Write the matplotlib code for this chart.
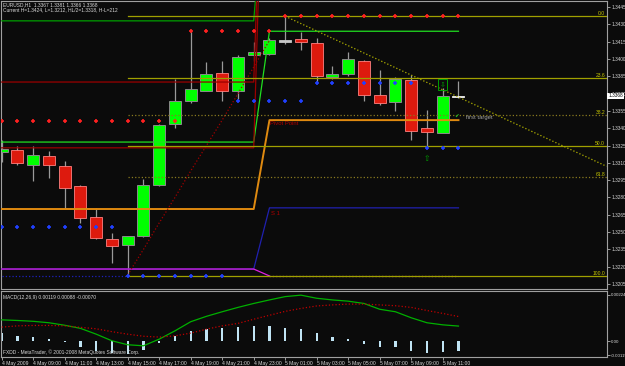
import matplotlib.pyplot as plt
from matplotlib.patches import Rectangle

# EURUSD H1, bars from 4 May 07:00 to 5 May 12:00
opens = [1.3319, 1.3321, 1.3308, 1.3316, 1.3307, 1.3290, 1.3263, 1.3244, 1.3239, 1.3247,
         1.3291, 1.3344, 1.3364, 1.3372, 1.3388, 1.3372, 1.3403, 1.3404, 1.3415, 1.3417,
         1.3414, 1.3384, 1.3387, 1.3398, 1.3369, 1.3363, 1.3382, 1.3340, 1.3336, 1.3367]
highs = [1.3330, 1.3325, 1.3325, 1.3320, 1.3312, 1.3291, 1.3271, 1.3249, 1.3247, 1.3296,
         1.3344, 1.3383, 1.3424, 1.3397, 1.3398, 1.3403, 1.3415, 1.3418, 1.3437, 1.3423,
         1.3418, 1.3394, 1.3406, 1.3399, 1.3390, 1.3384, 1.3386, 1.3356, 1.3375, 1.3381]
lows = [1.3311, 1.3308, 1.3294, 1.3297, 1.3271, 1.3258, 1.3244, 1.3223, 1.3212, 1.3246,
        1.3290, 1.3340, 1.3362, 1.3372, 1.3364, 1.3365, 1.3398, 1.3403, 1.3413, 1.3408,
        1.3380, 1.3383, 1.3385, 1.3364, 1.3360, 1.3355, 1.3330, 1.3323, 1.3336, 1.3366]
closes = [1.3322, 1.3310, 1.3317, 1.3308, 1.3288, 1.3262, 1.3245, 1.3238, 1.3247, 1.3291,
          1.3343, 1.3364, 1.3374, 1.3387, 1.3372, 1.3402, 1.3406, 1.3416, 1.3415, 1.3415,
          1.3385, 1.3387, 1.3400, 1.3369, 1.3362, 1.3383, 1.3338, 1.3337, 1.3368, 1.3368]

time_labels = ['4 May 2009', '4 May 09:00', '4 May 11:00', '4 May 13:00', '4 May 15:00',
               '4 May 17:00', '4 May 19:00', '4 May 21:00', '4 May 23:00', '5 May 01:00',
               '5 May 03:00', '5 May 05:00', '5 May 07:00', '5 May 09:00', '5 May 11:00']

# daily levels (4 May, 5 May); new day starts at bar 17
new_day = 17
pivot_lv = [1.3270, 1.3347]
s1_lv = [1.3218, 1.3271]
s2_lv = [1.3218, 1.3212]
green_lv = [1.3328, 1.3424]
dkgreen_lv = [1.3433, 1.3600]
red_lv1 = [1.3380, 1.3765]
red_lv2 = [1.3323, 1.3765]

# stop markers
red_marks = [1.3346] * 12 + [1.3424] * 6 + [1.3437] * 12
blue_marks = [1.3254] * 8 + [1.3212] * 7 + [1.3364] * 5 + [1.3379] * 7 + [1.3323] * 3

# dotted red ramp from the low
ramp_bars = [8, 9, 10, 11, 12, 13, 14, 15, 16, 17]
ramp_vals = [1.3213, 1.3235, 1.3258, 1.3280, 1.3303, 1.3325, 1.3347, 1.3370, 1.3393, 1.3416]

# fibo from the low bar, trendline from the high bar
fib_hi, fib_lo, fib_bar = 1.3437, 1.3212, 8
fib_levels = [0.0, 23.6, 38.2, 50.0, 61.8, 100.0]
trend_x = [18, 38.4]
trend_y = [1.3437, 1.3307]

# MACD pane
macd_main = [0.00104, 0.00101, 0.00097, 0.00090, 0.00078, 0.00063, 0.00035, 0.00003, -0.00016, -0.00021,
             0.00011, 0.00051, 0.00095, 0.00121, 0.00143, 0.00164, 0.00183, 0.00200, 0.00216, 0.00223,
             0.00208, 0.00200, 0.00194, 0.00183, 0.00155, 0.00143, 0.00114, 0.00090, 0.00080, 0.00074]
macd_signal = [0.00069, 0.00075, 0.00077, 0.00077, 0.00075, 0.00068, 0.00061, 0.00047, 0.00035, 0.00025,
               0.00021, 0.00027, 0.00040, 0.00059, 0.00075, 0.00087, 0.00107, 0.00126, 0.00145, 0.00159,
               0.00171, 0.00176, 0.00180, 0.00180, 0.00176, 0.00172, 0.00164, 0.00149, 0.00135, 0.00120]
macd_hist = [0.00040, 0.00027, 0.00021, 0.00011, -0.00005, -0.00029, -0.00048, -0.00056, -0.00059, -0.00043,
             -0.00007, 0.00024, 0.00048, 0.00061, 0.00064, 0.00069, 0.00072, 0.00072, 0.00067, 0.00059,
             0.00040, 0.00021, 0.00013, -0.00011, -0.00029, -0.00029, -0.00048, -0.00056, -0.00053, -0.00048]

price_ticks = [1.3445, 1.3430, 1.3415, 1.3400, 1.3385, 1.3370, 1.3355, 1.3340, 1.3325, 1.3310,
               1.3295, 1.3280, 1.3265, 1.3250, 1.3235, 1.3220, 1.3205]

BG = '#0b0b0b'
TXT = '#d8d8d8'
FS = 3.4
plt.rcParams['font.family'] = ['Liberation Sans', 'DejaVu Sans']

fig = plt.figure(figsize=(6.25, 3.66), dpi=100, facecolor=BG)
px = lambda v: v / 625
py = lambda v: v / 366
ax = fig.add_axes([px(1), 1 - py(289), px(606), py(288)], facecolor=BG)
axm = fig.add_axes([px(1), 1 - py(357), px(606), py(66)], facecolor=BG)

xl = (-0.044, 38.43)
n = len(opens)
bars = list(range(n))

# candles
for i in bars:
    o, h, l, c = opens[i], highs[i], lows[i], closes[i]
    ax.vlines(i, l, h, color='#9a9a9a', lw=0.9, zorder=2)
    if abs(c - o) < 0.00015:
        col = '#f0f0f0' if i == n - 1 else '#c8c8c8'
        ax.add_patch(Rectangle((i - 0.38, min(o, c)), 0.76, max(abs(c - o), 0.00012),
                               facecolor=col, edgecolor=col, lw=0.6, zorder=2))
    elif c > o:
        ax.add_patch(Rectangle((i - 0.38, o), 0.76, c - o, facecolor='#00ff00',
                               edgecolor='#8a8a8a', lw=0.7, zorder=2))
    else:
        ax.add_patch(Rectangle((i - 0.38, c), 0.76, o - c, facecolor='#dd1a0e',
                               edgecolor='#ff8080', lw=0.6, zorder=2))


def step(lv):
    return [lv[0]] * new_day + [lv[1]] * (n - new_day)


ax.plot(bars, step(dkgreen_lv), color='#00a000', lw=0.9, zorder=3)
ax.plot(bars, step(green_lv), color='#20e020', lw=0.9, zorder=3)
ax.plot(bars, step(red_lv1), color='#9a0000', lw=0.9, zorder=3)
ax.plot(bars, step(red_lv2), color='#9a0000', lw=0.9, zorder=3)
ax.plot(bars, step(pivot_lv), color='#e08a10', lw=1.4, zorder=3)
ax.plot(bars, step(s1_lv), color='#2020b0', lw=0.9, zorder=3)
s2 = step(s2_lv)
ax.plot(bars[:new_day + 1], s2[:new_day + 1], color='#e020e0', lw=0.9, zorder=3)
ax.plot(bars[new_day:], s2[new_day:], color='#f08070', lw=0.9, ls=':', zorder=3)
ax.plot(bars[:fib_bar + 1], [fib_lo] * (fib_bar + 1), color='#2020c0', lw=0.9, ls=':', zorder=3)
ax.plot(ramp_bars, ramp_vals, color='#a00000', lw=0.9, ls=':', zorder=3)

# fibonacci retracement
for lv in fib_levels:
    p = fib_hi - lv / 100 * (fib_hi - fib_lo)
    dotted = lv in (38.2, 61.8)
    ax.plot([fib_bar, xl[1]], [p, p], color='#8a7a20' if dotted else '#a0a000',
            lw=0.9, ls=':' if dotted else '-', zorder=3)
    ax.text(38.3, p, '%.1f' % lv, color='#c8c800', fontsize=3.6, ha='right', va='bottom',
            zorder=5)

ax.plot(trend_x, trend_y, color='#b0b000', lw=0.9, ls=':', zorder=3)

ax.plot(bars, red_marks, ls='none', marker='+', ms=3.5, mew=1.2, color='#ff2020', zorder=4)
ax.plot(bars, blue_marks, ls='none', marker='+', ms=3.5, mew=1.2, color='#2040ff', zorder=4)

ax.text(17.05, 1.3346, 'Pivot Point', color='#b00000', fontsize=4.2, va='top', ha='left', zorder=5)
ax.text(17.1, 1.3268, 'S 1', color='#b00000', fontsize=4.2, va='top', ha='left', zorder=5)
ax.text(28.9, 1.3350, '\u2714', color='#20c020', fontsize=4, ha='center', va='center',
        family='DejaVu Sans', zorder=5)
ax.text(29.5, 1.3349, 'first target', color='#a0a0a0', fontsize=4.2, ha='left', va='center', zorder=5)
ax.text(27, 1.3314, '\u21e7', color='#00a000', fontsize=5.5, ha='center', va='center',
        family='DejaVu Sans', zorder=5)
ax.add_patch(Rectangle((27.72, 1.3373), 0.58, 0.00100, facecolor='none', edgecolor='#00a000',
                       lw=0.7, zorder=5))
ax.text(28.01, 1.3378, '\u21e9', color='#00a000', fontsize=5, ha='center', va='center',
        family='DejaVu Sans', zorder=5)

ax.text(0.004, 0.996, 'EURUSD,H1  1.3367 1.3381 1.3366 1.3368', transform=ax.transAxes,
        color=TXT, fontsize=3.5, va='top', ha='left')
ax.text(0.004, 0.979, 'Current H=1.3424, L=1.3212, HL/2=1.3318, H-L=212', transform=ax.transAxes,
        color=TXT, fontsize=3.5, va='top', ha='left')

ax.set_xlim(*xl)
ax.set_ylim(1.32007, 1.34502)
ax.set_xticks([])
ax.yaxis.tick_right()
ax.set_yticks(price_ticks)
ax.set_yticklabels(['%.4f' % p for p in price_ticks])
ax.tick_params(axis='y', colors='#b0b0b0', labelcolor=TXT, labelsize=FS, length=2, width=0.6, pad=1)
ax.text(1.002, 1.3368, '1.3368', transform=ax.get_yaxis_transform(), color='black', fontsize=FS,
        va='center', ha='left', bbox=dict(facecolor='white', edgecolor='none', pad=0.6), zorder=6,
        clip_on=False)

# MACD pane
axm.bar(bars, macd_hist, width=0.14, color='#c0e4f4', zorder=2)
axm.plot(bars, macd_main, color='#00b000', lw=0.9, zorder=3)
axm.plot(bars, macd_signal, color='#c00000', lw=0.9, ls=':', zorder=3)
axm.set_xlim(*xl)
axm.set_ylim(-0.00075, 0.00243)
axm.yaxis.tick_right()
axm.set_yticks([0.00224, 0.0, -0.00066])
axm.set_yticklabels(['0.00224', '0.00', '-0.00115'])
axm.set_xticks(bars[::2])
axm.set_xticklabels(time_labels, ha='left')
axm.tick_params(axis='y', colors='#b0b0b0', labelcolor=TXT, labelsize=3.2, length=2, width=0.6, pad=1)
axm.tick_params(axis='x', colors='#b0b0b0', labelcolor=TXT, labelsize=3.6, length=2, width=0.6, pad=1.2)
axm.text(0.004, 0.94, 'MACD(12,26,9) 0.00119 0.00088 -0.00070', transform=axm.transAxes,
         color=TXT, fontsize=3.5, va='top', ha='left')
axm.text(0.004, 0.03, 'FXDD - MetaTrader, \u00a9 2001-2008 MetaQuotes Software Corp.',
         transform=axm.transAxes, color=TXT, fontsize=3.5, va='bottom', ha='left')

for a in (ax, axm):
    for s in a.spines.values():
        s.set_color('#a0a0a0')
        s.set_linewidth(0.8)

fig.savefig('out.png', dpi=100, facecolor=BG)
